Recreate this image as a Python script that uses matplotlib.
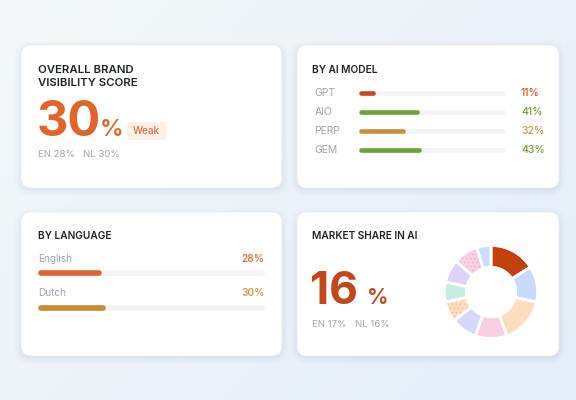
import matplotlib.pyplot as plt
import numpy as np
from matplotlib.patches import FancyBboxPatch

plt.rcParams['font.family'] = ['Inter', 'DejaVu Sans']
plt.rcParams['hatch.linewidth'] = 0.3

# overall score card
overall_score = 30
overall_label = 'Weak'
overall_en = 28
overall_nl = 30

# by AI model
models = ['GPT', 'AIO', 'PERP', 'GEM']
model_values = [11, 41, 32, 43]
model_bar_colors = ['#C9471C', '#6FA33A', '#C98F35', '#6FA33A']
model_text_colors = ['#D2552A', '#6E9E3A', '#CC9440', '#6E9E3A']

# by language
languages = ['English', 'Dutch']
language_values = [28, 30]
language_bar_colors = ['#DE6530', '#C98C30']
language_text_colors = ['#E0733F', '#CF9E55']

# market share
market_share = 16
market_en = 17
market_nl = 16
share_slices = [16, 12.5, 16, 11, 9, 7, 7, 8, 8.5, 5]
share_colors = ['#C2410C', '#C8DBFA', '#FDDDC0', '#FBCFE3', '#D6D6F8',
                '#FDDDC0', '#C8ECE2', '#DED2F8', '#FBCFE3', '#CADDFB']
share_dotted = [False, False, False, False, False, True, False, False, True, False]
share_dot_colors = [None] * 5 + ['#E6AF85', None, None, '#E8A0C2', None]

TITLE = '#1E2226'
GREY = '#9EA5B1'
TRACK = '#F1F3F6'

W, H = 576, 400
fig = plt.figure(figsize=(W / 100, H / 100), dpi=100)
bg = fig.add_axes([0, 0, 1, 1])
bg.set_xlim(0, W)
bg.set_ylim(H, 0)
bg.axis('off')

# soft diagonal gradient background
gx, gy = np.meshgrid(np.linspace(0, 1, 200), np.linspace(0, 1, 140))
t = (gx * 0.6 + gy * 0.4)
c0 = np.array([0xF4, 0xF8, 0xF8]) / 255
c1 = np.array([0xE4, 0xED, 0xFA]) / 255
grad = c0[None, None, :] * (1 - t[..., None]) + c1[None, None, :] * t[..., None]
bg.imshow(grad, extent=[0, W, H, 0], aspect='auto', zorder=0)


def card(x0, y0, x1, y1):
    w, h = x1 - x0, y1 - y0
    for i, a in enumerate([0.05, 0.04, 0.03, 0.02, 0.015]):
        pad = 1 + i * 1.6
        bg.add_patch(FancyBboxPatch((x0 - pad + 0.5, y0 - pad + 3), w + 2 * pad - 1, h + 2 * pad - 2,
                                    boxstyle='round,pad=0,rounding_size=%f' % (10 + pad),
                                    fc='#7F9BC0', ec='none', alpha=a, zorder=1))
    bg.add_patch(FancyBboxPatch((x0, y0), w, h, boxstyle='round,pad=0,rounding_size=10',
                                fc='white', ec='#E8EDF3', lw=0.6, zorder=2))


card(21, 45, 282, 188)
card(297, 45, 559, 188)
card(21, 212, 282, 356)
card(297, 212, 559, 356)


def txt(x, y, s, size, color, weight='normal', ha='left'):
    bg.text(x, y, s, fontsize=size, color=color, fontweight=weight, ha=ha, va='baseline', zorder=5)


# card 1
txt(38, 73.3, 'OVERALL BRAND', 8.2, TITLE, 'semibold')
txt(38, 85.5, 'VISIBILITY SCORE', 8.2, TITLE, 'semibold')
txt(36.5, 136, str(overall_score), 35, '#E0652B', 'bold')
txt(99.5, 136, '%', 17, '#E0652B', 'semibold')
bg.add_patch(FancyBboxPatch((127, 122), 39, 18, boxstyle='round,pad=0,rounding_size=3',
                            fc='#FDF0E6', ec='none', zorder=4))
txt(146.5, 134.5, overall_label, 7.2, '#D9733E', 'medium', ha='center')
txt(38, 157, 'EN %d%%' % overall_en, 6.9, GREY)
txt(83, 157, 'NL %d%%' % overall_nl, 6.9, GREY)

# card 2
txt(312, 73, 'BY AI MODEL', 7.3, TITLE, 'semibold')
row_base = [96, 115, 134, 153]
for name, v, col, yb in zip(models, model_values, model_text_colors, row_base):
    txt(314.5, yb, name, 7.5, GREY)
    txt(521, yb, '%d%%' % v, 7.5, col, 'medium')


def bar_axes(x0, x1, yc_top, yc_bot, n):
    # axes spanning bar centers, rows at 0..n-1
    step = (yc_bot - yc_top) / (n - 1) if n > 1 else 10
    top = yc_top - step / 2
    bot = yc_bot + step / 2
    ax = fig.add_axes([x0 / W, 1 - bot / H, (x1 - x0) / W, (bot - top) / H])
    ax.set_xlim(0, 100)
    ax.set_ylim(n - 0.5, -0.5)
    ax.axis('off')
    ax.set_zorder(6)
    ax.patch.set_alpha(0)
    return ax, (x1 - x0)


def rounded_bars(ax, axw, values, colors, lw_px):
    cap = (lw_px / 2) / axw * 100
    lw = lw_px * 72 / 100
    y = np.arange(len(values))
    ax.hlines(y, cap, 100 - cap, colors=TRACK, lw=lw, capstyle='round')
    for yi, v, c in zip(y, values, colors):
        ax.hlines(yi, cap, max(v - cap, cap + 0.01), colors=c, lw=lw, capstyle='round')


ax2, w2 = bar_axes(359, 505, 92.7, 149.7, len(models))
rounded_bars(ax2, w2, model_values, model_bar_colors, 4.6)

# card 3
txt(38, 239, 'BY LANGUAGE', 7.3, TITLE, 'semibold')
lang_base = [262, 295.5]
for name, v, col, yb in zip(languages, language_values, language_text_colors, lang_base):
    txt(38, yb, name, 7.2, GREY)
    txt(264.5, yb, '%d%%' % v, 7.3, col, 'semibold', ha='right')
ax3, w3 = bar_axes(38, 265, 273.5, 307.7, len(languages))
rounded_bars(ax3, w3, language_values, language_bar_colors, 5.6)

# card 4
txt(312, 239, 'MARKET SHARE IN AI', 7.3, TITLE, 'semibold')
txt(310, 304, str(market_share), 32, '#C2471A', 'bold')
txt(366.5, 304, '%', 15.5, '#C2471A', 'semibold')
txt(312, 327, 'EN %d%%' % market_en, 6.9, GREY)
txt(355, 327, 'NL %d%%' % market_nl, 6.9, GREY)

cx, cy, R = 491, 292, 47.5
ax4 = fig.add_axes([(cx - R) / W, 1 - (cy + R) / H, 2 * R / W, 2 * R / H])
ax4.set_zorder(6)
ax4.patch.set_alpha(0)
ax4.pie(share_slices, colors=share_colors, startangle=90, counterclock=False,
        wedgeprops=dict(width=0.47, edgecolor='white', linewidth=1.8), radius=1)
dots, _ = ax4.pie(share_slices, colors=['none'] * len(share_slices), startangle=90,
                  counterclock=False, wedgeprops=dict(width=0.47, linewidth=0), radius=1)
for w_, d, dc in zip(dots, share_dotted, share_dot_colors):
    if d:
        w_.set_hatch('....')
        w_.set_edgecolor(dc)
        w_.set_linewidth(0)
ax4.pie(share_slices, colors=['none'] * len(share_slices), startangle=90, counterclock=False,
        wedgeprops=dict(width=0.47, edgecolor='white', linewidth=1.8), radius=1)
ax4.set_xlim(-1.02, 1.02)
ax4.set_ylim(-1.02, 1.02)
ax4.set_aspect('equal')

fig.savefig('out.png', dpi=100)
